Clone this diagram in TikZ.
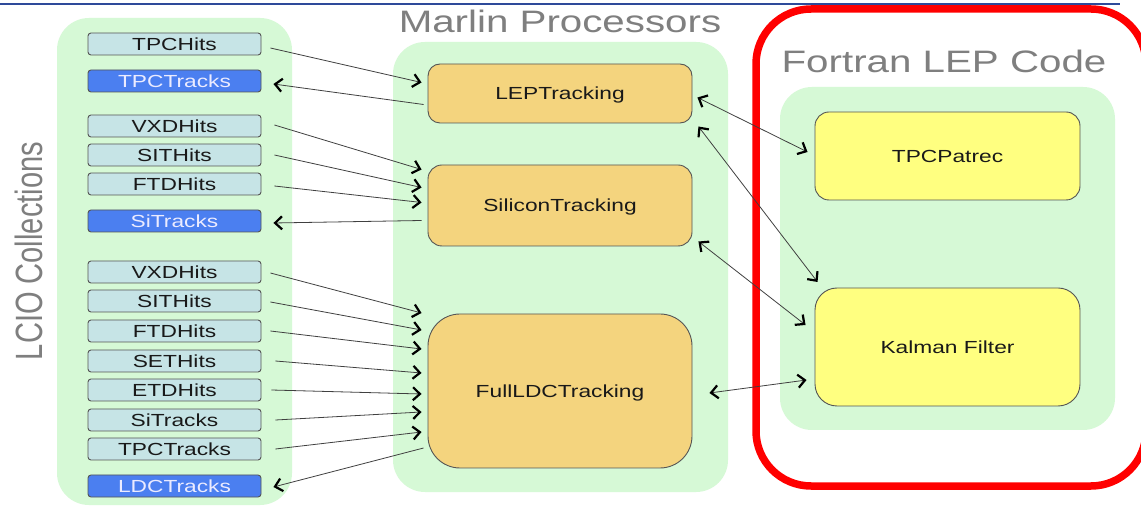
\documentclass[tikz,border=0pt]{standalone}
\usepackage{fontspec}
\setmainfont{Liberation Sans}
\newfontfamily\widefont[FakeStretch=1.3]{Liberation Sans}
\newfontfamily\narrowfont[FakeStretch=0.765]{Liberation Sans}
\usetikzlibrary{arrows.meta,calc}
\definecolor{panelgreen}{HTML}{D6F9D6}
\definecolor{collfill}{HTML}{C6E4E6}
\definecolor{collblue}{HTML}{4B7FF0}
\definecolor{procfill}{HTML}{F4D47E}
\definecolor{fortfill}{HTML}{FFFF80}
\definecolor{titlegray}{HTML}{7F7F7F}
\definecolor{topline}{HTML}{2E4A9A}
\definecolor{boxborder}{HTML}{555555}
\tikzset{
  panel/.style={fill=panelgreen, draw=none, rounded corners=32pt},
  coll/.style={draw=boxborder, line width=0.9pt, fill=collfill, rounded corners=3pt,
    minimum width=173pt, minimum height=22pt, inner sep=0pt, text depth=0pt,
    font=\widefont\fontsize{17.5}{18}\selectfont, text=black!90},
  collout/.style={coll, fill=collblue, text=white!92!blue},
  proc/.style={draw=boxborder, line width=0.9pt, fill=procfill, inner sep=0pt, text depth=0pt,
    minimum width=264pt, font=\widefont\fontsize{17.5}{18}\selectfont, text=black!90},
  fort/.style={proc, fill=fortfill, minimum width=265pt},
  ptitle/.style={font=\widefont\fontsize{31}{32}\selectfont, text=titlegray, inner sep=0pt, text depth=0pt},
  tipx/.tip={Straight Barb[length=7pt,width=13pt,line width=2.2pt,color=black]},
  arr/.style={draw=black!75, line width=0.8pt, -{tipx}},
  darr/.style={draw=black!75, line width=0.8pt, {tipx}-{tipx}}
}
\begin{document}
\begin{tikzpicture}[x=1pt,y=-1pt]
\useasboundingbox (0,0) rectangle (1141,510);
\clip (0,0) rectangle (1141,510);
\fill[white] (0,0) rectangle (1141,510);
% top line
\draw[topline, line width=1.5pt] (0,4) -- (1120,4);
% panels
\path[panel] (57,18) rectangle (292,505);
\path[panel] (393,42) rectangle (728,492);
\path[panel] (780,87) rectangle (1115,430);
% red frame
\draw[red, line width=7.5pt, rounded corners=55pt] (756,9) rectangle (1146,486);
% titles
\node[ptitle] (ttlm) at (560,21) {Marlin Processors};
\node[ptitle] (ttlf) at (944,61) {Fortran LEP Code};
\node[rotate=90, anchor=base, inner sep=0pt, text=titlegray,
  font=\narrowfont\fontsize{38}{40}\selectfont] (ttll) at (42,251) {LCIO Collections};
% collections
\node[coll]    (c1)  at (174.5,44)  {TPCHits};
\node[collout] (c2)  at (174.5,81)  {TPCTracks};
\node[coll]    (c3)  at (174.5,126) {VXDHits};
\node[coll]    (c4)  at (174.5,155) {SITHits};
\node[coll]    (c5)  at (174.5,184) {FTDHits};
\node[collout] (c6)  at (174.5,221) {SiTracks};
\node[coll]    (d1)  at (174.5,272) {VXDHits};
\node[coll]    (d2)  at (174.5,301) {SITHits};
\node[coll]    (d3)  at (174.5,331) {FTDHits};
\node[coll]    (d4)  at (174.5,361) {SETHits};
\node[coll]    (d5)  at (174.5,390) {ETDHits};
\node[coll]    (d6)  at (174.5,420) {SiTracks};
\node[coll]    (d7)  at (174.5,449) {TPCTracks};
\node[collout] (d8)  at (174.5,486) {LDCTracks};
% processors
\node[proc, minimum height=59pt, rounded corners=12pt]  (lep) at (560,93.5)  {LEPTracking};
\node[proc, minimum height=81pt, rounded corners=14pt]  (sil) at (560,205.5) {SiliconTracking};
\node[proc, minimum height=154pt, rounded corners=32pt] (ldc) at (560,391)   {FullLDCTracking};
\node[fort, minimum height=88pt, rounded corners=14pt]  (tpc) at (947.5,156) {TPCPatrec};
\node[fort, minimum height=118pt, rounded corners=22pt] (kal) at (947.5,347) {Kalman Filter};
% connectors: top group
\draw[arr] ($(c1.east)+(9,4)$) -- ($(lep.west)+(-6,-11)$);
\draw[arr] ($(lep.west)+(-4,11)$) -- ($(c2.east)+(12,3)$);
\draw[arr] ($(c3.east)+(13,-1)$) -- ($(sil.west)+(-6,-36)$);
\draw[arr] ($(c4.east)+(13,0)$) -- ($(sil.west)+(-6,-18)$);
\draw[arr] ($(c5.east)+(13,2)$) -- ($(sil.west)+(-6,-3)$);
\draw[arr] ($(sil.west)+(-6,15)$) -- ($(c6.east)+(12,2)$);
% connectors: bottom group
\draw[arr] ($(d1.east)+(9,1)$) -- ($(ldc.west)+(-6,-78)$);
\draw[arr] ($(d2.east)+(9,1)$) -- ($(ldc.west)+(-6,-61)$);
\draw[arr] ($(d3.east)+(9,0)$) -- ($(ldc.west)+(-6,-42)$);
\draw[arr] ($(d4.east)+(14,0)$) -- ($(ldc.west)+(-6,-18)$);
\draw[arr] ($(d5.east)+(10,0)$) -- ($(ldc.west)+(-6,3)$);
\draw[arr] ($(d6.east)+(14,0)$) -- ($(ldc.west)+(-6,21)$);
\draw[arr] ($(d7.east)+(14,0)$) -- ($(ldc.west)+(-6,41)$);
\draw[arr] ($(ldc.west)+(-4,57)$) -- ($(d8.east)+(12,1)$);
% connectors: right side
\draw[darr] ($(lep.east)+(5,4)$) -- ($(tpc.west)+(-7,-4)$);
\draw[darr] ($(lep.east)+(6,33)$) -- ($(kal.west)+(3,-65)$);
\draw[darr] ($(sil.east)+(6,36)$) -- ($(kal.west)+(-9,-22)$);
\draw[darr] ($(ldc.east)+(17,2)$) -- ($(kal.west)+(-8,33)$);
\end{tikzpicture}
\end{document}
